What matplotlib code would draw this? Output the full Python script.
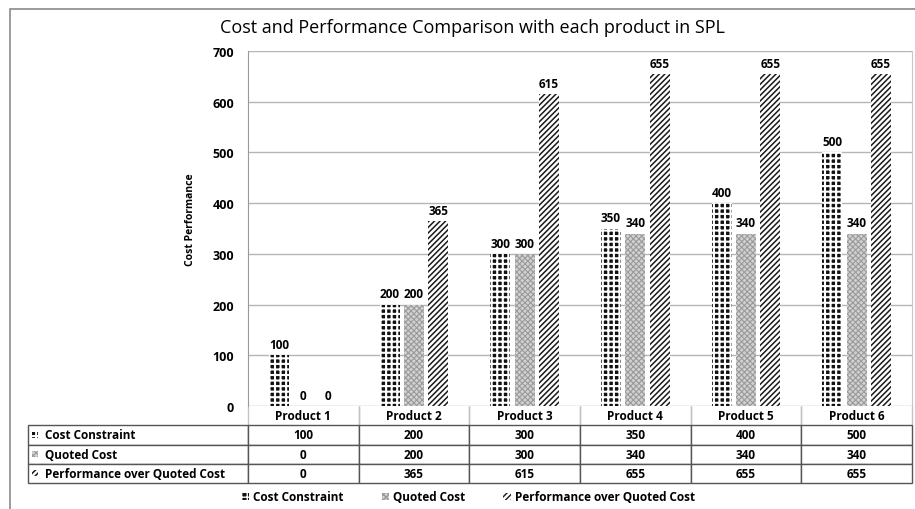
import matplotlib.pyplot as plt
from matplotlib.patches import Rectangle, Patch
import numpy as np

plt.rcParams['font.family'] = ['Open Sans', 'DejaVu Sans']

# data
products = ['Product 1', 'Product 2', 'Product 3', 'Product 4', 'Product 5', 'Product 6']
cost_constraint = [100, 200, 300, 350, 400, 500]
quoted_cost = [0, 200, 300, 340, 340, 340]
performance = [0, 365, 615, 655, 655, 655]
series_names = ['Cost Constraint', 'Quoted Cost', 'Performance over Quoted Cost']
yticks = [0, 100, 200, 300, 400, 500, 600, 700]

W, H = 915, 510
fig = plt.figure(figsize=(W / 100, H / 100), dpi=100)

# plot area in pixels
ax_l, ax_r, ax_t, ax_b = 248, 912, 52, 407
ax = fig.add_axes([ax_l / W, 1 - ax_b / H, (ax_r - ax_l) / W, (ax_b - ax_t) / H])

styles = [
    dict(facecolor='#111111', edgecolor='white', hatch='+++'),
    dict(facecolor='#d2d2d2', edgecolor='#9a9a9a', hatch='xxxxxx'),
    dict(facecolor='white', edgecolor='#1a1a1a', hatch='//////'),
]
hatch_lw = [1.5, 0.8, 1.1]

series = [cost_constraint, quoted_cost, performance]
offsets = [-0.22, 0.0, 0.22]
x = np.arange(len(products))
for i, (vals, off) in enumerate(zip(series, offsets)):
    # hatch width is read from rcParams when the patch is made
    with plt.rc_context({'hatch.linewidth': hatch_lw[i]}):
        bars = ax.bar(x + off, vals, width=0.18, linewidth=0, zorder=3, **styles[i])
    ax.bar_label(bars, padding=3, fontsize=8.5, fontweight='bold')

ax.set_xlim(-0.5, len(products) - 0.5)
ax.set_ylim(0, 700)
ax.set_yticks(yticks)
ax.set_yticklabels([str(t) for t in yticks], fontsize=9, fontweight='bold')
ax.tick_params(axis='y', length=0, pad=10)
ax.set_xticks([])
ax.grid(axis='y', color='#b5b5b5', linewidth=1, zorder=0)
for s in ['top', 'bottom']:
    ax.spines[s].set_visible(False)
ax.spines['left'].set_color('#9a9a9a')
ax.spines['right'].set_color('#c8c8c8')
ax.set_ylabel('Cost Performance', fontsize=7.5, fontweight='bold')
ax.yaxis.set_label_coords((196 - ax_l) / (ax_r - ax_l), (ax_b - 220) / (ax_b - ax_t))

# data table under the plot
tb_l, tb_b = 28, 484
span_x = ax_r - ax_l
span_y = ax_b - ax_t
cell_text = [[str(v) for v in vals] for vals in series]
tbl = ax.table(cellText=cell_text, rowLabels=['     ' + n for n in series_names],
               colLabels=products, colWidths=[1 / len(products)] * len(products),
               cellLoc='center', rowLoc='left',
               bbox=[0, -(tb_b - ax_b) / span_y, 1, (tb_b - ax_b) / span_y])
tbl.set_clip_on(False)
tbl._autoColumns = []
tbl.auto_set_font_size(False)
tbl.set_fontsize(8.5)
for (r, cidx), cell in tbl.get_celld().items():
    cell.get_text().set_fontweight('bold')
    cell.set_clip_on(False)
    if r == 0:
        cell.visible_edges = 'LR'
        cell.set_edgecolor('#c4c4c4')
    else:
        cell.set_edgecolor('#555555')
    if cidx == -1:
        cell.set_width((ax_l - tb_l) / span_x)
        cell.PAD = 0.01

# small pattern keys in the row labels
row_h = (tb_b - ax_b) / 4
for i in range(len(styles)):
    yc = ax_b + row_h * (i + 1.5)
    with plt.rc_context({'hatch.linewidth': hatch_lw[i]}):
        key = Rectangle((32 / W, 1 - (yc + 3) / H), 6 / W, 6 / H,
                        transform=fig.transFigure, linewidth=0, **styles[i])
    fig.add_artist(key)

# title
fig.text(0.516, 1 - 28 / H, 'Cost and Performance Comparison with each product in SPL',
         ha='center', va='center', fontsize=13)

# legend at the bottom
handles = []
for i in range(len(styles)):
    with plt.rc_context({'hatch.linewidth': hatch_lw[i]}):
        handles.append(Patch(linewidth=0, **styles[i]))
fig.legend(handles, series_names, loc='center', bbox_to_anchor=(0.512, 1 - 498 / H),
           ncol=3, frameon=False, handlelength=0.6, handleheight=0.6,
           handletextpad=0.4, columnspacing=3.2,
           prop={'size': 8.5, 'weight': 'bold'})

# outer frame
fig.add_artist(Rectangle((10 / W, -0.1), 1.2, 1.1 - 10 / H,
                         transform=fig.transFigure, fill=False,
                         edgecolor='#8a8a8a', linewidth=1.2))

fig.savefig('out.png', dpi=100)
